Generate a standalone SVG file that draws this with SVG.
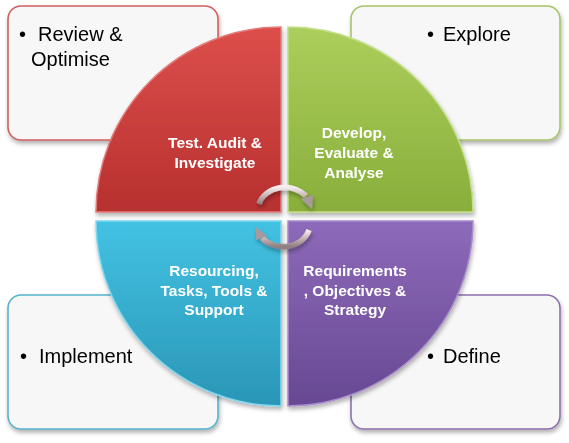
<svg xmlns="http://www.w3.org/2000/svg" width="569" height="443" viewBox="0 0 569 443">
<style>
.box{fill:#f7f7f7;stroke-width:1.6}
.bt{font-family:"Liberation Sans",Arial,sans-serif;font-size:20px;fill:#000}
.qt{font-family:"Liberation Sans",Arial,sans-serif;font-size:15.5px;font-weight:bold;fill:#fff;text-anchor:middle}
.arr{fill:none;stroke:url(#ga);stroke-width:5.5;stroke-linecap:butt}
</style>
<defs>
<filter id="sh" x="-10%" y="-10%" width="130%" height="130%">
<feDropShadow dx="1" dy="3" stdDeviation="2" flood-color="#000" flood-opacity="0.3"/>
</filter>
<linearGradient id="gr" x1="0" y1="0" x2="0" y2="1"><stop offset="0" stop-color="#dc4f4c"/><stop offset="1" stop-color="#b7302f"/></linearGradient>
<linearGradient id="gg" x1="0" y1="0" x2="0" y2="1"><stop offset="0" stop-color="#acce5c"/><stop offset="1" stop-color="#89ae3b"/></linearGradient>
<linearGradient id="gb" x1="0" y1="0" x2="0" y2="1"><stop offset="0" stop-color="#43c2e3"/><stop offset="1" stop-color="#2a96b6"/></linearGradient>
<linearGradient id="gp" x1="0" y1="0" x2="0" y2="1"><stop offset="0" stop-color="#8e6aba"/><stop offset="1" stop-color="#674892"/></linearGradient>
<linearGradient id="ga" x1="0" y1="0" x2="0" y2="1"><stop offset="0" stop-color="#f4eeee"/><stop offset="0.5" stop-color="#c9b4b4"/><stop offset="1" stop-color="#8f7f80"/></linearGradient>
</defs>

<g id="box-review" filter="url(#sh)">
<rect class="box" x="8" y="6" width="210" height="134" rx="13" stroke="#d0605e"/>
<text class="bt" x="19" y="41">•</text><text class="bt" x="38" y="41">Review &amp;</text>
<text class="bt" x="31" y="66">Optimise</text>
</g>
<g id="box-explore" filter="url(#sh)">
<rect class="box" x="351" y="6" width="209" height="134" rx="13" stroke="#a6c46a"/>
<text class="bt" x="427" y="41">•</text><text class="bt" x="443" y="41">Explore</text>
</g>
<g id="box-implement" filter="url(#sh)">
<rect class="box" x="8" y="295" width="210" height="134" rx="13" stroke="#55b3cc"/>
<text class="bt" x="20" y="363">•</text><text class="bt" x="39" y="363">Implement</text>
</g>
<g id="box-define" filter="url(#sh)">
<rect class="box" x="351" y="295" width="209" height="134" rx="13" stroke="#8d72ad"/>
<text class="bt" x="427" y="363">•</text><text class="bt" x="443" y="363">Define</text>
</g>

<g id="q-test" filter="url(#sh)">
<path d="M281 212 L96 212 A185 185 0 0 1 281 27 Z" fill="url(#gr)" stroke="#e37b78" stroke-width="1.5"/>
<text class="qt" x="215" y="148">Test. Audit &amp;</text>
<text class="qt" x="215" y="168">Investigate</text>
</g>
<g id="q-develop" filter="url(#sh)">
<path d="M288 212 L288 27 A185 185 0 0 1 473 212 Z" fill="url(#gg)" stroke="#c2de85" stroke-width="1.5"/>
<text class="qt" x="354" y="138">Develop,</text>
<text class="qt" x="354" y="158">Evaluate &amp;</text>
<text class="qt" x="354" y="178">Analyse</text>
</g>
<g id="q-resourcing" filter="url(#sh)">
<path d="M281 221 L281 406 A185 185 0 0 1 96 221 Z" fill="url(#gb)" stroke="#7fd6ee" stroke-width="1.5"/>
<text class="qt" x="214" y="276">Resourcing,</text>
<text class="qt" x="214" y="296">Tasks, Tools &amp;</text>
<text class="qt" x="214" y="315">Support</text>
</g>
<g id="q-requirements" filter="url(#sh)">
<path d="M288 221 L473 221 A185 185 0 0 1 288 406 Z" fill="url(#gp)" stroke="#a98ccd" stroke-width="1.5"/>
<text class="qt" x="355" y="276">Requirements</text>
<text class="qt" x="355" y="296">, Objectives &amp;</text>
<text class="qt" x="355" y="315">Strategy</text>
</g>

<g id="connectors" filter="url(#sh)">
<path class="arr" d="M259 204 A27 23 0 0 1 306 196"/>
<polygon points="301,199 313,195 312,209" fill="#a89a9b"/>
<path class="arr" d="M309 230 A27 23 0 0 1 262 238"/>
<polygon points="267,236 256,240 256,227" fill="#a89a9b"/>
</g>
</svg>
